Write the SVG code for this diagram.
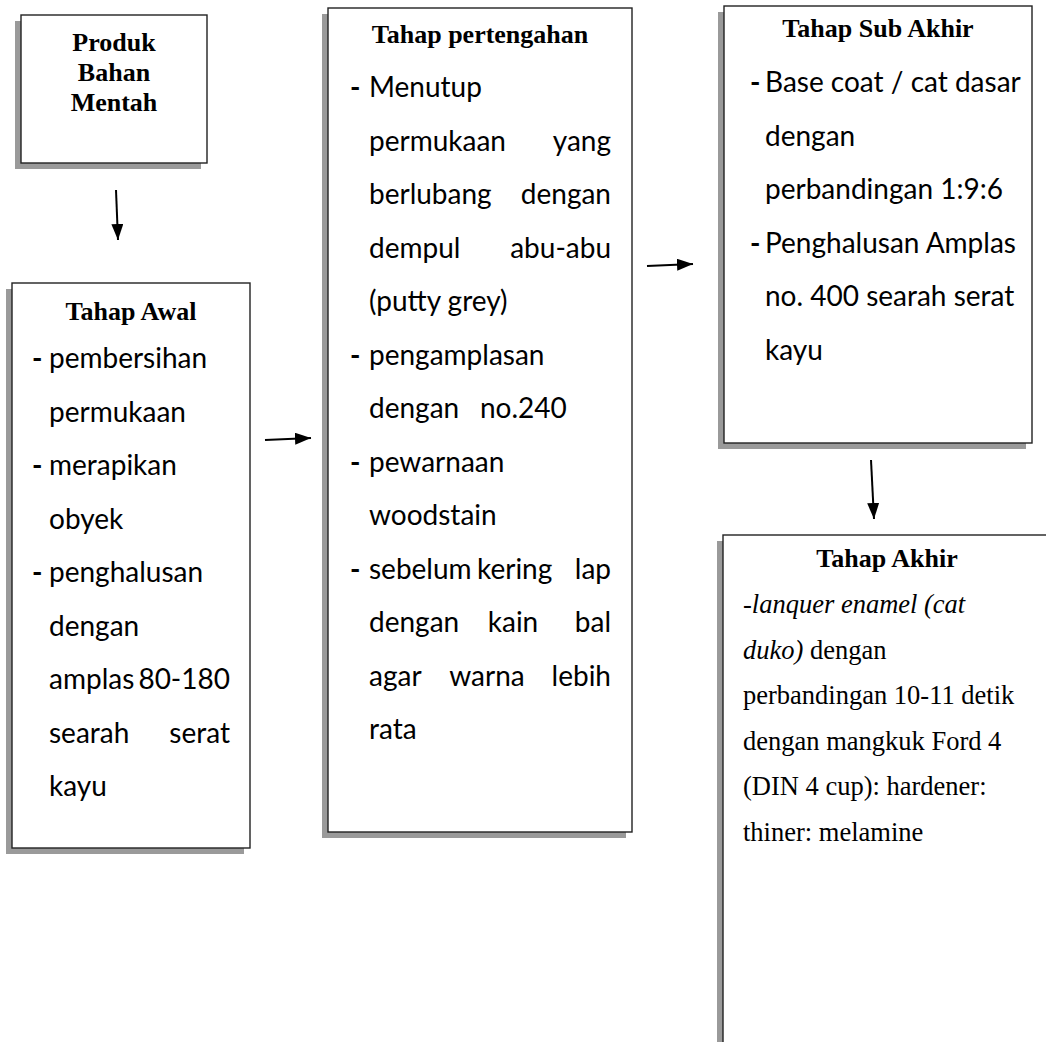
<svg xmlns="http://www.w3.org/2000/svg" width="1046" height="1042" viewBox="0 0 1046 1042">
<style>
.box{fill:#fff;stroke:#222;stroke-width:1.4}
.sh{fill:#9a9a9a}
.h{font-family:"Liberation Serif",serif;font-weight:bold;font-size:26px;text-anchor:middle;fill:#000}
.b{font-family:Lato,"Liberation Sans",sans-serif;font-size:28px;fill:#000}
.e{text-anchor:end}
.m{text-anchor:middle}
.d{font-weight:bold}
.t{font-family:"Liberation Serif",serif;font-size:26.5px;fill:#000}
.i{font-style:italic}
.c{stroke:#000;stroke-width:2;fill:none;marker-end:url(#ah)}
</style>
<defs>
<marker id="ah" markerUnits="userSpaceOnUse" markerWidth="18" markerHeight="14" refX="16" refY="6" orient="auto">
<path d="M0,0 L16,6 L0,12 z" fill="#000"/>
</marker>
</defs>
<rect width="1046" height="1042" fill="#fff"/>
<g id="produk">
<rect class="sh" x="15" y="21" width="186" height="148"/>
<rect class="box" x="21" y="15" width="186" height="148"/>
<text class="h" x="114" y="51">Produk</text>
<text class="h" x="114" y="81">Bahan</text>
<text class="h" x="114" y="111">Mentah</text>
</g>
<g id="awal">
<rect class="sh" x="6" y="289" width="238" height="565"/>
<rect class="box" x="12" y="283" width="238" height="565"/>
<text class="h" x="131" y="320">Tahap Awal</text>
<g class="b">
<text class="d" x="32" y="368">-</text>
<text x="49" y="368">pembersihan</text>
<text x="49" y="421.5">permukaan</text>
<text class="d" x="32" y="475">-</text>
<text x="49" y="475">merapikan</text>
<text x="49" y="528.5">obyek</text>
<text class="d" x="32" y="582">-</text>
<text x="49" y="582">penghalusan</text>
<text x="49" y="635.5">dengan</text>
<text x="49" y="689">amplas</text><text class="e" x="230" y="689">80-180</text>
<text x="49" y="742.5">searah</text><text class="e" x="230" y="742.5">serat</text>
<text x="49" y="796">kayu</text>
</g>
</g>
<g id="pertengahan">
<rect class="sh" x="322" y="14" width="304" height="824"/>
<rect class="box" x="328" y="8" width="304" height="824"/>
<text class="h" x="480" y="43">Tahap pertengahan</text>
<g class="b">
<text class="d" x="350" y="97">-</text>
<text x="369" y="97">Menutup</text>
<text x="369" y="150.5">permukaan</text><text class="e" x="611" y="150.5">yang</text>
<text x="369" y="204">berlubang</text><text class="e" x="611" y="204">dengan</text>
<text x="369" y="257.5">dempul</text><text class="e" x="611" y="257.5">abu-abu</text>
<text x="369" y="311">(putty grey)</text>
<text class="d" x="350" y="364.5">-</text>
<text x="369" y="364.5">pengamplasan</text>
<text x="369" y="418">dengan</text><text x="480" y="418">no.240</text>
<text class="d" x="350" y="471.5">-</text>
<text x="369" y="471.5">pewarnaan</text>
<text x="369" y="525">woodstain</text>
<text class="d" x="350" y="578.5">-</text>
<text x="369" y="578.5">sebelum</text><text x="477" y="578.5">kering</text><text class="e" x="611" y="578.5">lap</text>
<text x="369" y="632">dengan</text><text class="m" x="513" y="632">kain</text><text class="e" x="611" y="632">bal</text>
<text x="369" y="685.5">agar</text><text class="m" x="487" y="685.5">warna</text><text class="e" x="611" y="685.5">lebih</text>
<text x="369" y="739">rata</text>
</g>
</g>
<g id="subakhir">
<rect class="sh" x="718" y="12" width="308" height="437"/>
<rect class="box" x="724" y="6" width="308" height="437"/>
<text class="h" x="878" y="37">Tahap Sub Akhir</text>
<g class="b">
<text class="d" x="750" y="92">-</text>
<text x="765" y="92">Base coat / cat dasar</text>
<text x="765" y="145.5">dengan</text>
<text x="765" y="199">perbandingan 1:9:6</text>
<text class="d" x="750" y="252.5">-</text>
<text x="765" y="252.5">Penghalusan Amplas</text>
<text x="765" y="306">no. 400 searah serat</text>
<text x="765" y="359.5">kayu</text>
</g>
</g>
<g id="akhir">
<rect class="sh" x="717" y="541" width="340" height="520"/>
<rect class="box" x="723" y="535" width="340" height="520"/>
<text class="h" x="887" y="567">Tahap Akhir</text>
<g class="t">
<text class="i" x="743" y="613">-lanquer enamel (cat</text>
<text x="743" y="658.5"><tspan class="i">duko)</tspan> dengan</text>
<text x="743" y="704">perbandingan 10-11 detik</text>
<text x="743" y="749.5">dengan mangkuk Ford 4</text>
<text x="743" y="795">(DIN 4 cup): hardener:</text>
<text x="743" y="840.5">thiner: melamine</text>
</g>
</g>
<g id="connectors">
<line class="c" x1="116" y1="190" x2="118" y2="240"/>
<line class="c" x1="265" y1="440" x2="311" y2="438"/>
<line class="c" x1="647" y1="266" x2="693" y2="264"/>
<line class="c" x1="871" y1="460" x2="874" y2="519"/>
</g>
</svg>
